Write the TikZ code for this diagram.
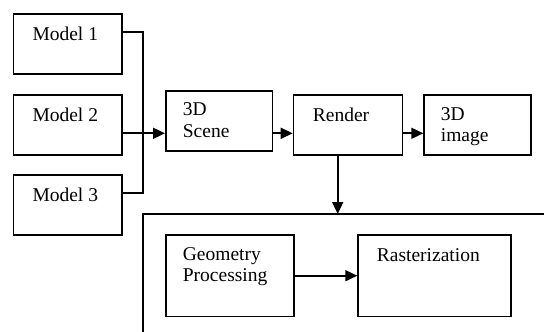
\documentclass[tikz,border=0pt]{standalone}
\usepackage{fontspec}
\setmainfont{Liberation Serif}
\usetikzlibrary{arrows.meta}
\begin{document}
\begin{tikzpicture}[x=1pt,y=-1pt,
  box/.style={draw,line width=1.7pt,rectangle,inner sep=0pt,anchor=north west},
  lbl/.style={anchor=base west,inner sep=0pt,font=\fontsize{19.5}{23}\selectfont},
  conn/.style={line width=1.7pt},
  arr/.style={line width=1.7pt,-{Triangle[length=12pt,width=11pt]}}]
\useasboundingbox (0,0) rectangle (544,332);
% boxes
\node[box,minimum width=108.3pt,minimum height=59.7pt] (m1) at (12.7,13.3) {};
\node[box,minimum width=108.3pt,minimum height=60pt] (m2) at (12.7,94) {};
\node[box,minimum width=108.3pt,minimum height=59.7pt] (m3) at (12.7,174.3) {};
\node[box,minimum width=106.7pt,minimum height=60pt] (scene) at (165,90) {};
\node[box,minimum width=109pt,minimum height=60.3pt] (render) at (292.7,94) {};
\node[box,minimum width=106.7pt,minimum height=60.3pt] (image) at (423.3,94) {};
\node[box,minimum width=128.3pt,minimum height=81.7pt] (geo) at (165,234) {};
\node[box,minimum width=152.7pt,minimum height=81.7pt] (ras) at (357.3,234) {};
% texts
\node[lbl] (t1) at (32.3,40.7) {Model 1};
\node[lbl] (t2) at (32.3,121.3) {Model 2};
\node[lbl] (t3) at (32.3,201.3) {Model 3};
\node[lbl] (ts1) at (182.7,115) {3D};
\node[lbl] (ts2) at (182.7,137.7) {Scene};
\node[lbl] (tr) at (312.7,121) {Render};
\node[lbl] (ti1) at (440.7,120) {3D};
\node[lbl] (ti2) at (440.7,141.7) {image};
\node[lbl] (tg1) at (182.7,260) {Geometry};
\node[lbl] (tg2) at (182.7,281.7) {Processing};
\node[lbl] (tra) at (376.7,261.7) {Rasterization};
% outer (cropped) frame
\coordinate (fbl) at (143.3,332);
\coordinate (ftl) at (143.3,214);
\coordinate (ftr) at (544,214);
\draw[conn] (fbl) -- (ftl) -- (ftr);
% connectors
\coordinate (p1) at ([yshift=-19pt]m1.north east);
\coordinate (p2) at ([yshift=-39.3pt]m2.north east);
\coordinate (p3) at ([yshift=-19pt]m3.north east);
\coordinate (bus) at (143.3,0);
\draw[conn] (p1) -- (p1 -| bus) -- (p3 -| bus) -- (p3);
\draw[arr] (p2) -- (p2 -| scene.west);
\draw[arr] (p2 -| scene.east) -- (p2 -| render.west);
\draw[arr] (p2 -| render.east) -- (p2 -| image.west);
\coordinate (rd) at (337.7,214);
\draw[arr] (rd |- render.south) -- (rd);
\draw[arr] (geo.east) -- (ras.west);
\end{tikzpicture}
\end{document}
